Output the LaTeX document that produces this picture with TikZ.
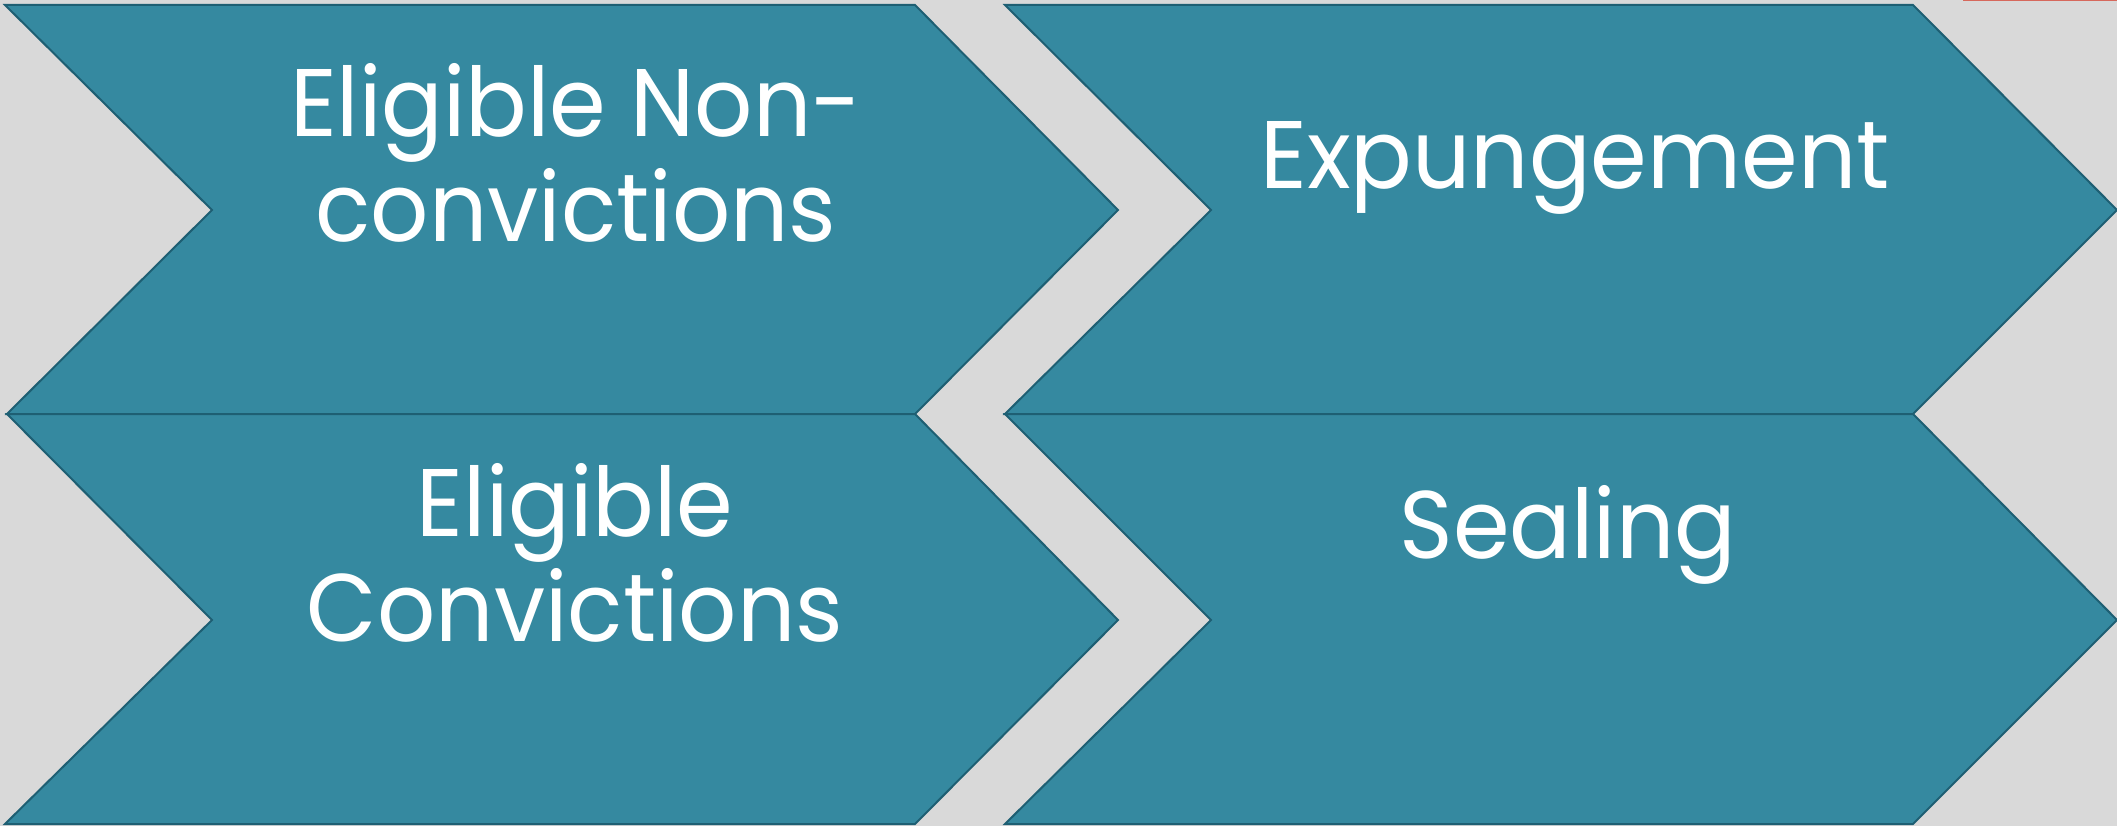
\documentclass[tikz,border=0pt]{standalone}
\usepackage{fontspec}
\setmainfont{Poppins}[FakeStretch=0.95]
\definecolor{bgc}{RGB}{217,217,217}
\definecolor{chevfill}{RGB}{53,137,160}
\definecolor{chevline}{RGB}{30,95,115}
\definecolor{redline}{RGB}{214,104,92}
\begin{document}
\begin{tikzpicture}[x=1pt,y=-1pt,
  chev/.style={fill=chevfill,draw=chevline,line width=2pt,line join=miter},
  lbl/.style={text=white,align=center,anchor=base,inner sep=0pt,
    font=\fontsize{96}{105}\selectfont}]
\useasboundingbox[fill=bgc] (0,0) rectangle (2117,826);
% chevrons
\draw[chev] (5,5) -- (915,5) -- (1118,210) -- (915,414) -- (7,414) -- (212,210) -- cycle;
\draw[chev] (7,414) -- (915,414) -- (1118,620) -- (915,824) -- (5,824) -- (212,620) -- cycle;
\draw[chev] (1005,5) -- (1913,5) -- (2117,210) -- (1913,414) -- (1005,414) -- (1211,210) -- cycle;
\draw[chev] (1005,414) -- (1913,414) -- (2117,620) -- (1913,824) -- (1005,824) -- (1211,620) -- cycle;
% stray red line at top right
\draw[redline,line width=1.5pt] (1963,0.5) -- (2117,0.5);
% labels (base anchor = baseline of last line)
\node[lbl] (t1) at (576,242) {Eligible Non-\\convictions};
\node[lbl] (t2) at (575,641) {Eligible\\Convictions};
\node[lbl] (t3) at (1575,189) {Expungement};
\node[lbl] (t4) at (1568,558) {Sealing};
\end{tikzpicture}
\end{document}
